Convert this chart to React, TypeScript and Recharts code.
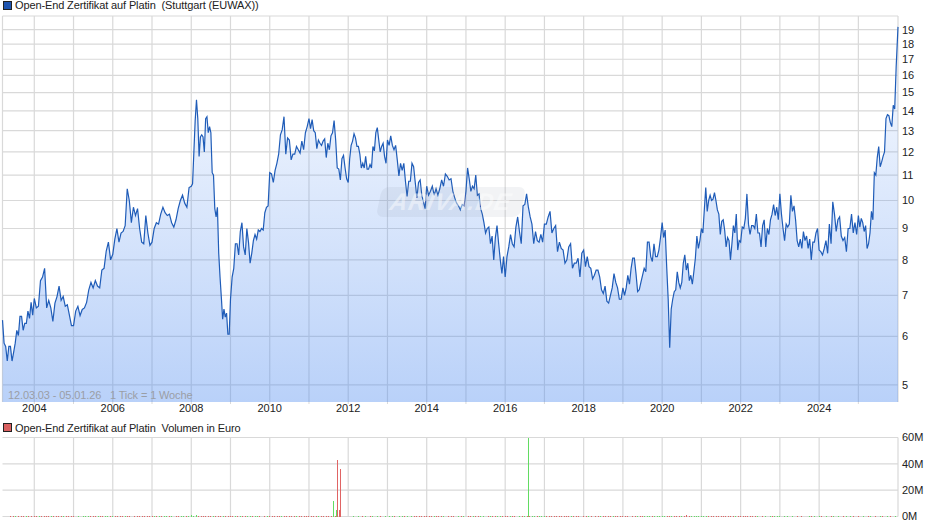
import React from "react";
import { ComposedChart, Area, Bar, XAxis, YAxis, CartesianGrid } from "recharts";

const FONT = '"Liberation Sans", Arial, sans-serif';

const v2003 = [6.38,5.85,5.78,5.47,5.78,5.78,5.47,5.65,5.85,6.14,6.02,6.47,6.47,6.14,6.3,6.3,6.6,6.42,6.82,6.5];
const v2004 = [6.92,6.68,6.72,7.4,7.5,7.75,6.68,6.87,6.68,6.35,6.8,6.97,7.25,6.87,6.97,6.72,6.76,6.5,6.25];
const v2005 = [6.25,6.6,6.72,6.49,6.64,6.68,6.82,7.15,7.35,7.2,7.4,7.25,7.2,7.7,7.75,8.27,8.55,8.0];
const v2006 = [8.17,8.65,9,8.55,8.85,8.9,9.1,10.45,10,9.2,9.75,9.45,9.7,9,8.55,8.5,9.45,8.85,8.45];
const v2007 = [8.55,9,9.2,9.15,9.5,9.75,9.55,9.45,9.5,9.2,9.05,9.3,9.7,10,10.2,9.9,9.75,10.5];
const v2008 = [10.55,10.65,12,13.5,14.6,13.6,11.8,12.7,12.8,12.7,12,13.6,13.7,12.9,13.2,12.9,11.1,11,9.7,9.4,9.75,8.2,7.5,6.95,6.4,6.65,6.45,6.55,6.05,6.05];
const v2009 = [6.9,7.5,7.75,8.5,8.5,8.15,8.9,9.2,8.4,8.15,9,8.55,7.9,8.2,8.6,8.8,8.65,8.95,8.9,9,8.95,9.55,9.75,9.8];
const v2010 = [11.1,11.05,10.7,11.2,11.5,11.9,12.8,13.05,13.7,11.9,12.65,12.55,11.65,11.9,11.9,12.25,12.1,11.95,12.5,12.1,12.9,13.2];
const v2011 = [13.6,13.1,13.55,13,12.9,12.15,12.55,12.4,12.3,12.5,12.6,11.75,12.4,12.1,12.75,12.9,13.5,12.55,11.3,11.25,10.8,11.7,11.85,11.3,10.85];
const v2012 = [10.7,11.7,12.3,12.5,12.85,12.65,12.25,12.25,11.9,11.3,11.5,11.3,11.8,11.25,11.25,11.45,11.3,12.25,12.05,12.9,13.15,12.55,12,12.25,12.4,11.8,11.5];
const v2013 = [12.55,12.3,12.75,12.3,12.1,12.3,11.65,10.97,11.5,11.2,11.5,10.75,10.15,10.75,10.75,11.5,11.35,10.7,10.1,10.7,10.8,10.2,9.95,9.7];
const v2014 = [10.55,10.2,10.35,10.55,10.2,10.45,10.2,10.45,10.8,10.55,11.05,10.95,10.8,10.85,10.35,10.1,9.9,9.8,9.65,9.85,9.8];
const v2015 = [10.35,11.3,10.85,10.35,10.55,10.45,11,10.2,10.25,9.7,9.5,9.2,8.85,9,9.05,8.5,8.75,8,8.7,9.1,8.5,8,7.6,8.1];
const v2016 = [7.5,8.1,8.4,8.8,8.5,8.4,9.05,9.4,8.9,8.5,9.8,9.85,10.25,9.75,9.4,9.15,8.5,8.9,8.6,8.55,8.8,8.55];
const v2017 = [9.15,9.15,9.4,9.6,8.85,9,9.1,8.25,8.55,8.35,8.3,7.9,8,8.4,8.5,7.75,7.9,7.9,8.05,7.5,8.2];
const v2018 = [8.3,7.8,8.1,7.8,7.75,7.45,7.55,7.7,7.7,7.5,7.15,7.05,7.25,6.85,6.8,7,7.2,7.6,7.35,7.2,6.9,6.9];
const v2019 = [7.2,7,7.2,7.55,7.3,7.75,8.05,8.05,7.6,7.1,7.15,7.35,7.55,7.75,7.65,8.55,8.55,8.1,7.95,8.5,8.1,8.1,8.3,8.7];
const v2020 = [9.2,8.7,8.95,7.8,6.9,5.75,6.65,6.9,7.1,7.15,7.65,7.35,7.2,7.35,7.9,8.15,7.7,7.9,7.4,7.55,7.3,7.65,8.05,8.75,8.35,8.6];
const v2021 = [9,8.85,9.65,10.5,9.6,10,10.2,10,10.05,10.3,10,9.65,9.5,8.8,9.25,9.3,8.95,8.4,8.7,8.6,8,8.5,9.1,8.85,9.5,8.3,8.6];
const v2022 = [8.55,9.05,9,9.35,10.25,9.15,8.8,9.1,9.1,9,9.5,8.85,8.85,8.4,9.1,9.3,8.4,9,8.8,9.3,9.5,9.85,9.45,9.75,9.3];
const v2023 = [10.25,9.5,9,8.6,9.15,9.05,9.15,10.2,9.6,9.8,9.3,8.6,8.4,8.65,8.35,8.9,8.6,8.75,8.35,8.65,8,8.55,8.55,8.85,9];
const v2024 = [8.3,8.25,8.15,8.35,8.6,8.2,9.15,8.5,9.95,9.5,8.9,9.3,9.4,8.75,8.6,8.7,8.25,9,9,9.5,8.85,9.2,8.8];
const v2025 = [9.45,9.05,9.35,9.2,8.9,9.1,8.35,8.5,8.85,9.6,9.3,11.1,11,11.75,12.25,11.35,11.55,11.8,12,13.6,13.8,13.75,13.4,13.2,14.3,14.1,16.5];
const v2026 = [19.2];

const priceYears: [number, number[]][] = [
  [2003.19, v2003],[2004, v2004],[2005, v2005],[2006, v2006],[2007, v2007],[2008, v2008],[2009, v2009],[2010, v2010],
  [2011, v2011],[2012, v2012],[2013, v2013],[2014, v2014],[2015, v2015],[2016, v2016],[2017, v2017],[2018, v2018],
  [2019, v2019],[2020, v2020],[2021, v2021],[2022, v2022],[2023, v2023],[2024, v2024],[2025, v2025],[2026.01, v2026],
];

const yearEnd = (s: number) => Math.floor(s) + 1;
const priceData = priceYears.flatMap(([s, vals]) =>
  vals.map((price, i) => ({ t: s + (i / vals.length) * (yearEnd(s) - s), price }))
);

const yearTicks = [2004,2005,2006,2007,2008,2009,2010,2011,2012,2013,2014,2015,2016,2017,2018,2019,2020,2021,2022,2023,2024,2025];
const priceTicks = [5,6,7,8,9,10,11,12,13,14,15,16,17,18,19];
const volumeTicks = [0,20,40,60];
const T0 = 2003.19;
const T1 = 2026.01;

// signed volume in millions: + = green, - = red
const q2003 = [0,0,0,-.6,-.7,.5,-.6,-.7,-.6,.5,-.7,-.6];
const q2004 = [-.7,-.6,.5,-.6,-.7,-.6,-.7,.5,-.7,-.6,-.7,-.6,.5,-.7,-.6,-.7];
const q2005 = [-.6,0,.5,0,.5,.6,.5,-.6,-.7,-.6,.5,-.7,-.6,.5,.4,-.6];
const q2006 = [.8,-.6,-.7,-.6,-.6,.5,-.7,-.6,0,-.7,-.6,-.7,-.6,-.7,-.7,-.6];
const q2007 = [-.7,.5,-.6,.5,-1.1,.6,.5,-.6,.5,0,-.7,-.6,.5,.6,-.7,.5];
const q2008 = [1.2,1,1.8,-1,-.7,-.6,-.7,-.6,-.7,.5,-.6,-.7,-.6,.5,-.7,-.6];
const q2009 = [-.6,-.7,.9,-.6,.5,-.7,-.6,.5,.6,-.7,.5,.6,-.6,0,-.7,.5];
const q2010 = [-.7,-.6,-.7,-.6,-.7,.5,-.6,-.7,-.6,-.7,-.6,.5,-.7,-.6,-.7,-.6];
const q2011 = [-.6,-.7,-.6,-.7,.5,-.6,-.7,-.6,-.7,-.6,.5,-.7,0,0,0,0];
const q2012 = [0,0,.5,0,.5,0,-.6,.5,0,-.7,.5,0,.5,-.6,0,.5];
const q2013 = [0,.5,.5,-.6,0,.5,.5,-.7,.5,0,1.1,-.7,-.6,-.7,-.6,-.7];
const q2014 = [-.6,-.7,-.6,.5,-.7,-.6,-.7,.5,0,-.6,-.7,-.6,0,.5,-.7,.5];
const q2015 = [0,-.6,-.7,.5,-.6,-.6,.5,.6,0,-.7,.5,-.6,-.7,.5,.6,-.7];
const q2016 = [-.7,-.6,.5,-.7,-.6,0,.5,-.7,.5,-.6,-.7,.5,.6,-.7,.5,.6];
const q2017 = [.5,-.7,-.6,-.7,-.6,-.7,-.6,-.6,-.7,-.6,-.7,.5,-.6,-.7,-.6,0];
const q2018 = [-.7,-.6,.5,-.7,0,-.6,-.7,.5,-.6,-.7,-.6,-.7,.5,-.6,-.7,-.6];
const q2019 = [-.6,-.7,-.6,0,-.7,-.6,.5,-.7,-.6,.6,.5,.6,-.7,.5,.6,.5];
const q2020 = [.5,.6,-.7,-.6,.5,-.7,-1.1,-.6,.5,-.7,-1.2,-.7,.5,.6,.9,.5];
const q2021 = [.5,.6,.5,-.7,-.6,-.7,-.6,-.7,-.6,-.7,-.6,-.7,-.6,-.7,.5,-.6];
const q2022 = [-.7,-.6,-.7,-.6,-.7,-.6,-.7,.5,0,-.6,.5,0,.5,-.7,.5,.6];
const q2023 = [.5,0,.5,.6,0,.5,0,-.7,0,-.6,0,0,.5,-.6,.5,0];
const q2024 = [.5,-.6,0,.5,0,-.7,.5,0,.6,0,-.7,.5,0,.5,-.6,0];
const q2025 = [-.7,0,.5,0,-.6,.5,0,-.7,0,.5,-.6,0,.5,-.7,0,.5];

const spikeDates = [2011.62, 2011.70, 2011.72, 2011.77, 2011.80, 2016.59];
const spikeValues = [12.3, 5.5, -43, -5, -36.5, 60];

const volumeYears: [number, number[]][] = [
  [2003.19,q2003],[2004,q2004],[2005,q2005],[2006,q2006],[2007,q2007],[2008,q2008],[2009,q2009],[2010,q2010],[2011,q2011],
  [2012,q2012],[2013,q2013],[2014,q2014],[2015,q2015],[2016,q2016],[2017,q2017],[2018,q2018],[2019,q2019],[2020,q2020],
  [2021,q2021],[2022,q2022],[2023,q2023],[2024,q2024],[2025,q2025],
];
const volumeData = [
  ...volumeYears.flatMap(([s, vals]) =>
    vals.map((q, i) => ({ t: s + (i / vals.length) * (yearEnd(s) - s), q }))
  ),
  ...spikeDates.map((t, i) => ({ t, q: spikeValues[i] })),
]
  .sort((a, b) => a.t - b.t)
  .map(({ t, q }) => ({ t, up: q > 0 ? q : 0, down: q < 0 ? -q : 0 }));

const GRID = "#d9d9d9";
const LINE = "#1f5cb8";

const label: React.CSSProperties = {
  position: "absolute",
  fontFamily: FONT,
  fontSize: 11,
  letterSpacing: -0.12,
  lineHeight: "14px",
  color: "#222",
  whiteSpace: "pre",
};

function Swatch({ top, fill }: { top: number; fill: string }) {
  return (
    <div
      style={{
        position: "absolute",
        left: 3,
        top,
        width: 7,
        height: 7,
        background: fill,
        border: "1px solid #222",
      }}
    />
  );
}

// One crisp pixel column for every bar; the position comes from the chart's scales.
function CrispBar(props: any) {
  const { x, y, width, height, fill } = props;
  if (!(height > 0)) return null;
  const bottom = Math.round(y + height);
  const h = Math.max(1, Math.round(height));
  return <rect x={Math.round(x + width / 2 - 0.5)} y={bottom - h} width={1} height={h} fill={fill} />;
}

export default function App() {
  return (
    <div style={{ position: "absolute", left: 0, top: 0, width: 940, height: 526, background: "#fff", overflow: "hidden" }}>
      <Swatch top={1} fill="#1f55b0" />
      <div style={{ ...label, left: 15, top: -2 }}>Open-End Zertifikat auf Platin  (Stuttgart (EUWAX))</div>

      <div style={{ position: "absolute", left: 0, top: 0 }}>
        <ComposedChart width={940} height={415} data={priceData} margin={{ top: 16, right: 0, bottom: 0, left: 2.5 }}>
          <defs>
            <linearGradient id="priceFill" x1="0" y1="0" x2="0" y2="1">
              <stop offset="0%" stopColor="#508cf0" stopOpacity={0.03} />
              <stop offset="100%" stopColor="#508cf0" stopOpacity={0.4} />
            </linearGradient>
          </defs>
          <CartesianGrid
            stroke={GRID}
            strokeWidth={1.2}
            horizontalValues={[...priceTicks, 20]}
            verticalValues={[T0, ...yearTicks, T1]}
          />
          <XAxis
            dataKey="t"
            type="number"
            domain={[T0, T1]}
            ticks={yearTicks}
            height={13}
            axisLine={false}
            tickLine={{ stroke: GRID }}
            tickSize={2}
            tickMargin={0}
            interval={0}
            tick={{ fontFamily: FONT, fontSize: 11, fill: "#222" }}
            tickFormatter={(y: number) => (y % 2 === 0 ? String(y) : "")}
          />
          <YAxis
            orientation="right"
            type="number"
            scale="log"
            domain={[4.69, 20]}
            allowDataOverflow
            ticks={priceTicks}
            width={42}
            axisLine={false}
            tickLine={false}
            tickSize={0}
            tickMargin={4}
            interval={0}
            tick={{ fontFamily: FONT, fontSize: 11, fill: "#222" }}
          />
          <Area
            dataKey="price"
            type="linear"
            stroke={LINE}
            strokeWidth={1.2}
            fill="url(#priceFill)"
            fillOpacity={1}
            isAnimationActive={false}
            dot={false}
            activeDot={false}
          />
        </ComposedChart>
      </div>

      <div
        style={{
          position: "absolute",
          left: 379,
          top: 187,
          width: 144,
          height: 30,
          borderRadius: 7,
          background: "rgba(130,140,160,0.10)",
          transform: "skewX(-12deg)",
          color: "rgba(255,255,255,0.45)",
          fontFamily: FONT,
          fontSize: 24,
          fontWeight: 700,
          fontStyle: "italic",
          lineHeight: "30px",
          textAlign: "center",
          letterSpacing: 1,
        }}
      >
        ARIVA.DE
      </div>

      <div style={{ ...label, left: 8, top: 388, color: "#9a9ea6" }}>12.03.03 - 05.01.26   1 Tick = 1 Woche</div>

      <Swatch top={423} fill="#d96060" />
      <div style={{ ...label, left: 15, top: 421 }}>Open-End Zertifikat auf Platin  Volumen in Euro</div>

      <div style={{ position: "absolute", left: 0, top: 415 }}>
        <ComposedChart width={940} height={111} data={volumeData} margin={{ top: 22.5, right: 0, bottom: 9.5, left: 2.5 }}>
          <CartesianGrid
            stroke={GRID}
            strokeWidth={1.2}
            horizontalValues={volumeTicks}
            verticalValues={[T0, ...yearTicks, T1]}
          />
          <XAxis dataKey="t" type="number" domain={[T0, T1]} ticks={yearTicks} hide height={0} />
          <YAxis
            orientation="right"
            type="number"
            domain={[0, 60]}
            ticks={volumeTicks}
            width={42}
            axisLine={false}
            tickLine={false}
            tickSize={0}
            tickMargin={4}
            interval={0}
            tick={{ fontFamily: FONT, fontSize: 11, fill: "#222" }}
            tickFormatter={(v: number) => `${v}M`}
          />
          <Bar dataKey="up" stackId="v" fill="#62dc62" barSize={1} isAnimationActive={false} shape={CrispBar} />
          <Bar dataKey="down" stackId="v" fill="#e06464" barSize={1} isAnimationActive={false} shape={CrispBar} />
        </ComposedChart>
      </div>
    </div>
  );
}
